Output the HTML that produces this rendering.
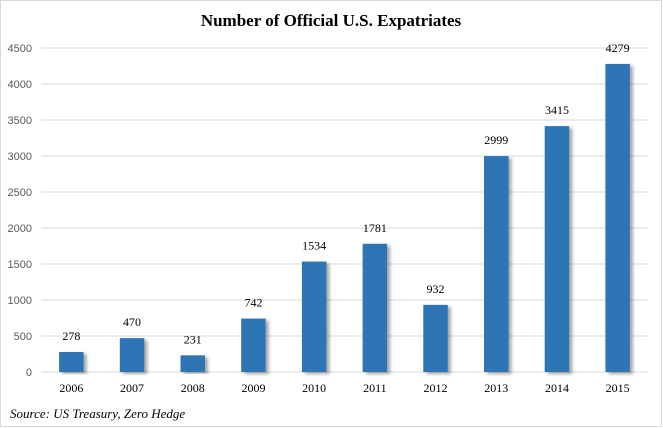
<!DOCTYPE html>
<html><head><meta charset="utf-8"><style>
body{margin:0;background:#fff}
svg{display:block}
</style></head><body>
<svg width="663" height="428" font-family="'Liberation Serif',serif">
<rect x="0.5" y="0.5" width="661" height="426" fill="#fff" stroke="#d9d9d9"/>
<text x="331" y="26" text-anchor="middle" font-size="17" font-weight="bold" fill="#000">Number of Official U.S. Expatriates</text>
<defs><filter id="sh" x="-20%" y="-5%" width="160%" height="115%"><feDropShadow dx="3" dy="2" stdDeviation="1.5" flood-color="#000" flood-opacity="0.35"/></filter></defs>
<g id="grid"></g><g id="bars"></g><g id="labels"></g>
<text x="10" y="418" font-size="13" font-style="italic" fill="#000">Source: US Treasury, Zero Hedge</text>
</svg>
<script>
const categories=["2006","2007","2008","2009","2010","2011","2012","2013","2014","2015"];
const values=[278,470,231,742,1534,1781,932,2999,3415,4279];
const yTicks=[0,500,1000,1500,2000,2500,3000,3500,4000,4500];
const NS="http://www.w3.org/2000/svg";
const plotLeft=41,plotRight=648,plotTop=48,plotBottom=372,yMax=4500;
const yScale=v=>plotBottom-(v/yMax)*(plotBottom-plotTop);
const step=(plotRight-plotLeft)/categories.length;
const xScale=i=>plotLeft+step*(i+0.5);
function mk(t,a,p){const e=document.createElementNS(NS,t);for(const k in a)e.setAttribute(k,a[k]);p.appendChild(e);return e;}
const gGrid=document.getElementById('grid'),gBars=document.getElementById('bars'),gLab=document.getElementById('labels');
yTicks.forEach(v=>{
 const ln=mk('line',{x1:plotLeft,x2:plotRight,y1:yScale(v),y2:yScale(v),stroke:'#d9d9d9','stroke-width':1},gGrid);
 
 
 const t=mk('text',{x:32,y:yScale(v)+4,'text-anchor':'end','font-size':11,fill:'#595959','font-family':"'Liberation Sans',sans-serif"},gGrid);
 t.textContent=v;
 
 
});
categories.forEach((c,i)=>{
 const bw=24.5;
 const r=mk('rect',{x:xScale(i)-bw/2,y:yScale(values[i]),width:bw,height:plotBottom-yScale(values[i]),fill:'#2e75b6',filter:'url(#sh)'},gBars);
 
 
 const vt=mk('text',{x:xScale(i),y:yScale(values[i])-12,'text-anchor':'middle','font-size':12,fill:'#000'},gLab);
 vt.textContent=values[i];
 
 
 const ct=mk('text',{x:xScale(i),y:392,'text-anchor':'middle','font-size':12,fill:'#000'},gLab);
 ct.textContent=c;
 
 
});
</script>
</body></html>
